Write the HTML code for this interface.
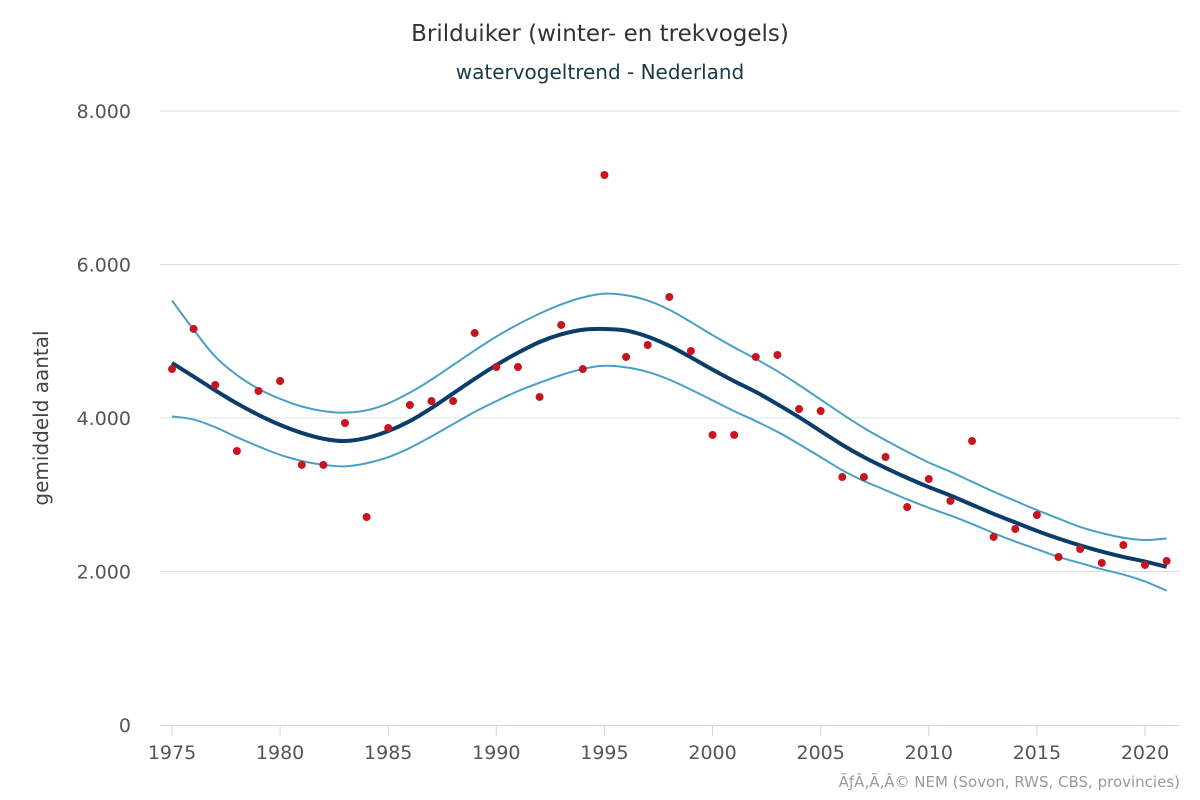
<!DOCTYPE html>
<html><head><meta charset="utf-8"><style>
body{margin:0;background:#fff;}
svg{display:block;font-family:"DejaVu Sans","Liberation Sans",sans-serif;}
</style></head><body>
<svg id="chart" width="1200" height="800">
<text x="600" y="41" text-anchor="middle" font-size="23" fill="#333">Brilduiker (winter- en trekvogels)</text>
<text x="600" y="79" text-anchor="middle" font-size="20" fill="#1a3a4a">watervogeltrend - Nederland</text>
<text transform="translate(48,418) rotate(-90)" text-anchor="middle" font-size="20" fill="#444">gemiddeld aantal</text>
<g id="grid"></g><g id="axes"></g><g id="series"></g>
<text x="1180" y="787" text-anchor="end" font-size="15" fill="#999">ÃƒÂ‚Ã‚Â© NEM (Sovon, RWS, CBS, provincies)</text>
</svg>
<script>
const years=[];for(let y=1975;y<=2021;y++)years.push(y);
const observed=[4638,5160,4430,3570,4352,4482,3388,3388,3935,2710,3870,4169,4221,4221,5107,4664,4664,4274,5212,4638,7166,4795,4951,5577,4873,3779,3779,4795,4821,4117,4091,3231,3231,3492,2840,3205,2919,3700,2450,2554,2736,2189,2293,2111,2345,2085,2137];
const trend=[4717,4540,4360,4190,4040,3910,3805,3730,3700,3740,3830,3960,4130,4320,4510,4690,4850,4990,5090,5150,5160,5140,5060,4940,4790,4630,4480,4340,4180,4010,3830,3650,3490,3350,3220,3100,2990,2870,2750,2640,2530,2430,2340,2260,2190,2130,2060];
const upper=[5530,5150,4800,4560,4380,4250,4150,4090,4070,4100,4190,4330,4500,4690,4880,5060,5220,5360,5480,5570,5620,5600,5530,5410,5250,5080,4920,4770,4610,4430,4240,4050,3870,3710,3560,3420,3300,3170,3040,2920,2800,2690,2580,2500,2440,2410,2430];
const lower=[4020,3980,3880,3750,3630,3520,3440,3390,3370,3410,3490,3610,3760,3920,4080,4220,4350,4460,4560,4640,4680,4660,4600,4500,4370,4230,4090,3960,3820,3660,3490,3320,3180,3060,2940,2830,2730,2620,2500,2390,2290,2190,2110,2030,1960,1870,1750];
const yTicks=[0,2000,4000,6000,8000];
const yTickLabels=["0","2.000","4.000","6.000","8.000"];
const xTicks=[1975,1980,1985,1990,1995,2000,2005,2010,2015,2020];
const NS="http://www.w3.org/2000/svg";
const xs=y=>172+(y-1975)*(1145-172)/45;
const ys=v=>725-v*(725-111)/8000;
function mk(tag,attrs,parent){const e=document.createElementNS(NS,tag);for(const k in attrs)e.setAttribute(k,attrs[k]);parent.appendChild(e);return e;}
const G=document.getElementById('grid'),A=document.getElementById('axes'),S=document.getElementById('series');
yTicks.forEach((t,i)=>{
 if(t>0){const l=mk('line',{x1:160,x2:1180,y1:ys(t),y2:ys(t),stroke:'#e0e0e0','stroke-width':1},G);
 
 }
 const tx=mk('text',{x:131,y:ys(t)+7,'text-anchor':'end','font-size':19,fill:'#555'},A);tx.textContent=yTickLabels[i];
 
 
});
const ax=mk('line',{x1:160,x2:1180,y1:725.5,y2:725.5,stroke:'#ccd6eb','stroke-width':1},A);


xTicks.forEach(t=>{
 const tk=mk('line',{x1:xs(t),x2:xs(t),y1:725,y2:736,stroke:'#ccd6eb'},A);
 
 
 const tx=mk('text',{x:xs(t),y:759,'text-anchor':'middle','font-size':19,fill:'#555'},A);tx.textContent=t;
 
 
});
function path(vals){let d='';const p=vals.map((v,i)=>[xs(years[i]),ys(v)]);
 d='M'+p[0][0]+','+p[0][1];
 for(let i=0;i<p.length-1;i++){const p0=p[Math.max(0,i-1)],p1=p[i],p2=p[i+1],p3=p[Math.min(p.length-1,i+2)];
 d+=' C'+(p1[0]+(p2[0]-p0[0])/6)+','+(p1[1]+(p2[1]-p0[1])/6)+' '+(p2[0]-(p3[0]-p1[0])/6)+','+(p2[1]-(p3[1]-p1[1])/6)+' '+p2[0]+','+p2[1];}
 return d;}
const up=mk('path',{d:path(upper),fill:'none',stroke:'#4a9fc4','stroke-width':2},S);


const lo=mk('path',{d:path(lower),fill:'none',stroke:'#4a9fc4','stroke-width':2},S);


const tr=mk('path',{d:path(trend),fill:'none',stroke:'#0a3d6b','stroke-width':4},S);


observed.forEach((v,i)=>{
 const c=mk('circle',{cx:xs(years[i]),cy:ys(v),r:4,fill:'#c8141e'},S);
 
 
});
</script>
</body></html>
